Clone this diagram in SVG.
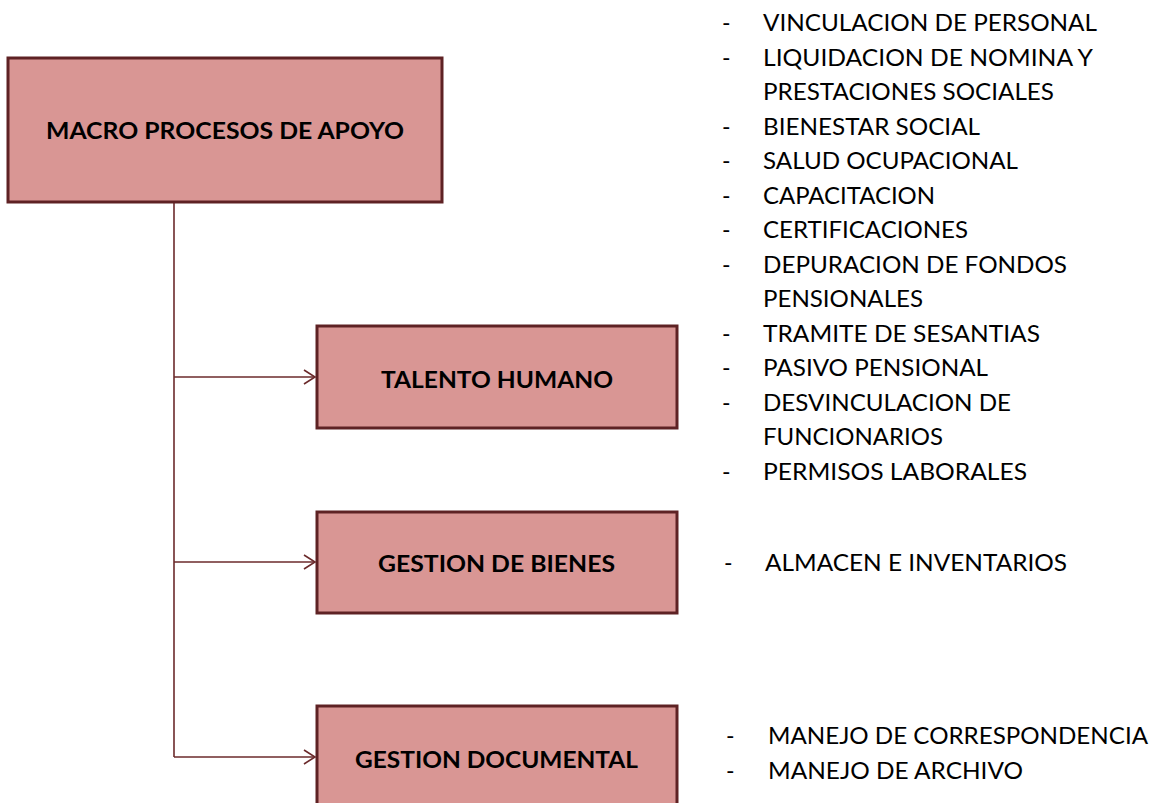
<svg xmlns="http://www.w3.org/2000/svg" width="1157" height="803" viewBox="0 0 1157 803">
<style>
.box{fill:#d99694;stroke:#5e2224;stroke-width:3}
.bl{font-family:Lato,"Open Sans","Liberation Sans",sans-serif;font-weight:bold;font-size:23px;fill:#000;text-anchor:start}
.li{font-family:Lato,"Open Sans","Liberation Sans",sans-serif;font-size:23px;fill:#000}
.con{stroke:#6b2a2b;stroke-width:1.6;fill:none}
</style>
<defs>
<marker id="arr" markerWidth="14" markerHeight="16" refX="12" refY="8" orient="auto" markerUnits="userSpaceOnUse">
<path d="M1,1 L12,8 L1,15" fill="none" stroke="#6b2a2b" stroke-width="1.6"/>
</marker>
</defs>
<rect width="1157" height="803" fill="#fff"/>
<g id="connectors">
<path class="con" d="M174,203 V757"/>
<path class="con" d="M174,377 H315" marker-end="url(#arr)"/>
<path class="con" d="M174,562 H315" marker-end="url(#arr)"/>
<path class="con" d="M174,757 H315" marker-end="url(#arr)"/>
</g>
<g id="macro">
<rect class="box" x="8" y="58" width="434" height="144"/>
<text class="bl" x="46" y="139" textLength="358" lengthAdjust="spacingAndGlyphs">MACRO PROCESOS DE APOYO</text>
</g>
<g id="talento">
<rect class="box" x="317" y="326" width="360" height="102"/>
<text class="bl" x="381" y="388" textLength="232" lengthAdjust="spacingAndGlyphs">TALENTO HUMANO</text>
</g>
<g id="bienes">
<rect class="box" x="317" y="512" width="360" height="101"/>
<text class="bl" x="378" y="572" textLength="237" lengthAdjust="spacingAndGlyphs">GESTION DE BIENES</text>
</g>
<g id="documental">
<rect class="box" x="317" y="706" width="360" height="110"/>
<text class="bl" x="355" y="768" textLength="283" lengthAdjust="spacingAndGlyphs">GESTION DOCUMENTAL</text>
</g>
<g id="lista-talento">
<text class="li" x="722" y="31">-</text><text class="li" x="763" y="31" textLength="334" lengthAdjust="spacingAndGlyphs">VINCULACION DE PERSONAL</text>
<text class="li" x="722" y="66">-</text><text class="li" x="763" y="66" textLength="330" lengthAdjust="spacingAndGlyphs">LIQUIDACION DE NOMINA Y</text>
<text class="li" x="763" y="100" textLength="291" lengthAdjust="spacingAndGlyphs">PRESTACIONES SOCIALES</text>
<text class="li" x="722" y="135">-</text><text class="li" x="763" y="135" textLength="217" lengthAdjust="spacingAndGlyphs">BIENESTAR SOCIAL</text>
<text class="li" x="722" y="169">-</text><text class="li" x="763" y="169" textLength="255" lengthAdjust="spacingAndGlyphs">SALUD OCUPACIONAL</text>
<text class="li" x="722" y="204">-</text><text class="li" x="763" y="204" textLength="172" lengthAdjust="spacingAndGlyphs">CAPACITACION</text>
<text class="li" x="722" y="238">-</text><text class="li" x="763" y="238" textLength="205" lengthAdjust="spacingAndGlyphs">CERTIFICACIONES</text>
<text class="li" x="722" y="273">-</text><text class="li" x="763" y="273" textLength="304" lengthAdjust="spacingAndGlyphs">DEPURACION DE FONDOS</text>
<text class="li" x="763" y="307" textLength="160" lengthAdjust="spacingAndGlyphs">PENSIONALES</text>
<text class="li" x="722" y="342">-</text><text class="li" x="763" y="342" textLength="277" lengthAdjust="spacingAndGlyphs">TRAMITE DE SESANTIAS</text>
<text class="li" x="722" y="376">-</text><text class="li" x="763" y="376" textLength="225" lengthAdjust="spacingAndGlyphs">PASIVO PENSIONAL</text>
<text class="li" x="722" y="411">-</text><text class="li" x="763" y="411" textLength="248" lengthAdjust="spacingAndGlyphs">DESVINCULACION DE</text>
<text class="li" x="763" y="445" textLength="180" lengthAdjust="spacingAndGlyphs">FUNCIONARIOS</text>
<text class="li" x="722" y="480">-</text><text class="li" x="763" y="480" textLength="264" lengthAdjust="spacingAndGlyphs">PERMISOS LABORALES</text>
</g>
<g id="lista-bienes">
<text class="li" x="724" y="571">-</text><text class="li" x="765" y="571" textLength="302" lengthAdjust="spacingAndGlyphs">ALMACEN E INVENTARIOS</text>
</g>
<g id="lista-documental">
<text class="li" x="726" y="744">-</text><text class="li" x="768" y="744" textLength="380" lengthAdjust="spacingAndGlyphs">MANEJO DE CORRESPONDENCIA</text>
<text class="li" x="726" y="779">-</text><text class="li" x="768" y="779" textLength="255" lengthAdjust="spacingAndGlyphs">MANEJO DE ARCHIVO</text>
</g>
</svg>
